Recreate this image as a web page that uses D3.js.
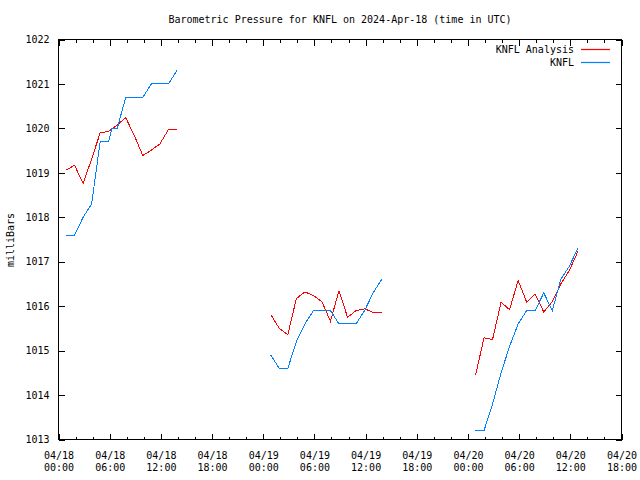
<!DOCTYPE html>
<html><head><meta charset="utf-8">
<script src="https://cdn.jsdelivr.net/npm/d3@7"></script>
<style>
body{margin:0;background:#fff}
svg{display:block}
text{font-family:"DejaVu Sans Mono",monospace;font-size:10px;fill:#000}
</style>
</head><body>
<svg id="c" width="640" height="480"></svg>
<script>
// ---- data (times in UTC) ----
const chartTitle = "Barometric Pressure for KNFL on 2024-Apr-18 (time in UTC)";
const yAxisLabel = "milliBars";
const seriesNames = ["KNFL Analysis", "KNFL"];
const seriesColors = ["#ff0000", "#0080ff"];

const analysisTimes = [
  "04-18 00:53","04-18 01:53","04-18 02:53","04-18 03:53","04-18 04:53","04-18 05:53","04-18 06:53",
  "04-18 07:53","04-18 08:53","04-18 09:53","04-18 10:53","04-18 11:53","04-18 12:53","04-18 13:53",
  "04-19 00:53","04-19 01:53","04-19 02:53","04-19 03:53","04-19 04:53","04-19 05:53","04-19 06:53",
  "04-19 07:53","04-19 08:53","04-19 09:53","04-19 10:53","04-19 11:53","04-19 12:53","04-19 13:53",
  "04-20 00:53","04-20 01:53","04-20 02:53","04-20 03:53","04-20 04:53","04-20 05:53","04-20 06:53",
  "04-20 07:53","04-20 08:53","04-20 09:53","04-20 10:53","04-20 11:53","04-20 12:53"
];
const analysisValues = [
  1019.06,1019.17,1018.76,1019.31,1019.90,1019.93,1020.08,
  1020.24,1019.84,1019.39,1019.51,1019.65,1019.97,1019.97,
  1015.81,1015.50,1015.36,1016.17,1016.32,1016.24,1016.10,
  1015.66,1016.35,1015.75,1015.90,1015.94,1015.86,1015.86,
  1014.44,1015.29,1015.25,1016.09,1015.92,1016.58,1016.09,
  1016.27,1015.87,1016.10,1016.50,1016.80,1017.23
];
const knflTimes = [
  "04-18 00:53","04-18 01:53","04-18 02:53","04-18 03:53","04-18 04:53","04-18 05:53","04-18 06:15","04-18 06:53",
  "04-18 07:53","04-18 08:53","04-18 09:53","04-18 10:53","04-18 11:53","04-18 12:53","04-18 13:53",
  "04-19 00:53","04-19 01:53","04-19 02:53","04-19 03:53","04-19 04:53","04-19 05:53","04-19 06:53",
  "04-19 07:53","04-19 08:53","04-19 09:53","04-19 10:53","04-19 11:53","04-19 12:53","04-19 13:53",
  "04-20 00:53","04-20 01:53","04-20 02:53","04-20 03:53","04-20 04:53","04-20 05:53","04-20 06:53",
  "04-20 07:53","04-20 08:53","04-20 09:53","04-20 10:53","04-20 11:53","04-20 12:53"
];
const knflValues = [
  1017.6,1017.6,1018.0,1018.3,1019.7,1019.7,1020.0,1020.0,
  1020.7,1020.7,1020.7,1021.0,1021.0,1021.0,1021.3,
  1014.9,1014.6,1014.6,1015.2,1015.6,1015.9,1015.9,
  1015.9,1015.6,1015.6,1015.6,1015.9,1016.3,1016.6,
  1013.2,1013.2,1013.8,1014.5,1015.1,1015.6,1015.9,
  1015.9,1016.3,1015.9,1016.6,1016.9,1017.3
];
const xDomain = ["04-18 00:00", "04-20 18:00"];
const yDomain = [1013, 1022];
const yTickValues = [1013,1014,1015,1016,1017,1018,1019,1020,1021,1022];

// ---- drawing ----
const parse = s => d3.utcParse("%Y-%m-%d %H:%M")("2024-" + s);
const L = 58.5, R = 621.5, T = 39.5, B = 439.5;
const svg = d3.select("#c");

const x = d3.scaleUtc().domain(xDomain.map(parse)).range([L, R]);
const y = d3.scaleLinear().domain(yDomain).range([B, T]);

function segments(times, values) {
  const pts = times.map((t, i) => ({t: parse(t), v: values[i]}));
  const segs = [];
  let cur = [];
  pts.forEach((p, i) => {
    if (i > 0 && (p.t - pts[i-1].t) > 3 * 3600e3) { segs.push(cur); cur = []; }
    cur.push(p);
  });
  if (cur.length) segs.push(cur);
  return segs;
}

const majorTicks = d3.utcHour.every(6).range(x.domain()[0], new Date(+x.domain()[1] + 1));
const minorTicks = d3.utcHour.every(2).range(x.domain()[0], new Date(+x.domain()[1] + 1));

// minor x ticks bottom & top
svg.append("g").attr("transform", `translate(0,${B})`)
  .call(d3.axisBottom(x).tickValues(minorTicks).tickSize(-3).tickFormat(""))
  .call(g => g.select(".domain").remove());
svg.append("g").attr("transform", `translate(0,${T})`)
  .call(d3.axisTop(x).tickValues(minorTicks).tickSize(-3).tickFormat(""))
  .call(g => g.select(".domain").remove());
// major x ticks
const fmtD = d3.utcFormat("%m/%d"), fmtH = d3.utcFormat("%H:%M");
const xb = svg.append("g").attr("transform", `translate(0,${B})`)
  .call(d3.axisBottom(x).tickValues(majorTicks).tickSize(-6).tickFormat(d => fmtD(d)))
  .call(g => g.select(".domain").remove());
xb.selectAll(".tick text").each(function(d) {
  const t = d3.select(this).attr("y", null).attr("dy", null).text(null);
  t.append("tspan").attr("x", 0).attr("y", 19).text(fmtD(d));
  t.append("tspan").attr("x", 0).attr("y", 31).text(fmtH(d));
});
svg.append("g").attr("transform", `translate(0,${T})`)
  .call(d3.axisTop(x).tickValues(majorTicks).tickSize(-6).tickFormat(""))
  .call(g => g.select(".domain").remove());
// y ticks
svg.append("g").attr("transform", `translate(${L},0)`)
  .call(d3.axisLeft(y).tickValues(yTickValues).tickSize(-6).tickPadding(9).tickFormat(d3.format("d")))
  .call(g => g.select(".domain").remove());
svg.append("g").attr("transform", `translate(${R},0)`)
  .call(d3.axisRight(y).tickValues(yTickValues).tickSize(-6).tickFormat(""))
  .call(g => g.select(".domain").remove());

svg.selectAll(".tick line").attr("stroke", "#000").attr("shape-rendering", "crispEdges");
svg.selectAll(".tick text").attr("fill", "#000").attr("font-family", "DejaVu Sans Mono").attr("font-size", 10);

// frame
svg.append("rect").attr("x", L).attr("y", T).attr("width", R - L).attr("height", B - T)
  .attr("fill", "none").attr("stroke", "#000").attr("shape-rendering", "crispEdges");

// series
const line = d3.line().x(d => x(d.t)).y(d => y(d.v));
[[analysisTimes, analysisValues], [knflTimes, knflValues]].forEach(([ts, vs], si) => {
  svg.append("g").selectAll("path").data(segments(ts, vs)).join("path")
    .attr("d", line).attr("fill", "none").attr("stroke", seriesColors[si])
    .attr("stroke-width", 1).attr("shape-rendering", "crispEdges");
});

// title & labels
svg.append("text").attr("x", (L + R) / 2).attr("y", 23).attr("text-anchor", "middle").text(chartTitle);
svg.append("text").attr("transform", "translate(14,240) rotate(-90)").attr("text-anchor", "middle").text(yAxisLabel);

// legend
const legendLine = d3.line();
seriesNames.forEach((name, i) => {
  const ly = 49.5 + i * 13;
  svg.append("text").attr("x", 574).attr("y", ly).attr("dy", "0.32em").attr("text-anchor", "end").text(name);
  svg.append("path").attr("d", legendLine([[581, ly], [610, ly]]))
    .attr("fill", "none").attr("stroke", seriesColors[i]).attr("stroke-width", 1.2);
});
</script>
</body></html>
